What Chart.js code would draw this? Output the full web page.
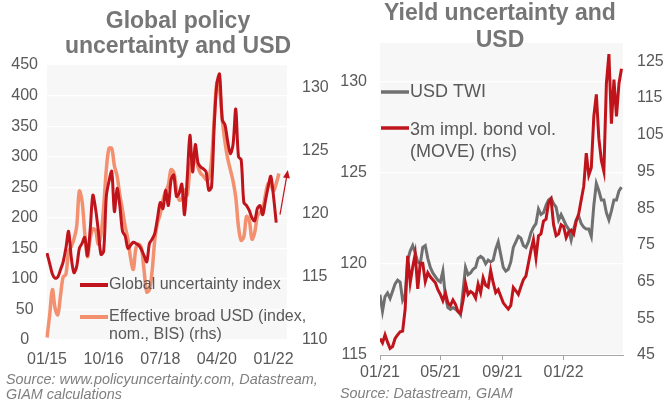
<!DOCTYPE html>
<html>
<head>
<meta charset="utf-8">
<script src="https://cdn.jsdelivr.net/npm/chart.js@4.4.1/dist/chart.umd.min.js"></script>
<style>
  html, body { margin: 0; padding: 0; background: #fff; }
  #wrap { position: relative; width: 663px; height: 402px; overflow: hidden; }
  canvas { position: absolute; top: 0; }
  #policyChart { left: 0; }
  #yieldChart { left: 335px; }
</style>
</head>
<body>
<div id="wrap">
  <canvas id="policyChart" width="335" height="402"></canvas>
  <canvas id="yieldChart" width="328" height="402"></canvas>
</div>
<script>
// ---- Left panel: monthly, 01/15 .. 06/22 ----
const policyStart = { year: 2015, month: 1 };
const policyMonths = 90;
const policyTicks = ['01/15', '10/16', '07/18', '04/20', '01/22'];

// Global economic policy uncertainty index (lhs)
const gepu = [142, 125, 108, 101, 103, 115, 128, 150, 178, 135,
  110, 120, 150, 158, 168, 138, 180, 237, 215, 180,
  140, 145, 235, 260, 276, 210, 248, 220, 178, 170,
  150, 155, 160, 158, 155, 148, 138, 128, 158, 165,
  175, 200, 225, 215, 245, 220, 262, 270, 235, 240,
  255, 205, 265, 335, 275, 320, 290, 283, 280, 275,
  245, 250, 350, 420, 435, 360, 352, 325, 305, 320,
  378, 300, 295, 225, 220, 212, 200, 195, 215, 220,
  205, 228, 250, 268, 235, 192];

// Effective broad USD, nominal, BIS (rhs)
const usdBroad = [110.2, 112, 114, 112.5, 112, 113.5, 115, 115.2, 117, 117.4,
  118, 119, 121.8, 121, 118.5, 116.6, 118, 118.8, 118.7, 117.6,
  118.3, 120.5, 123.5, 125.2, 125.2, 123.8, 123, 121.5, 120.3, 119,
  118, 116.5, 115.6, 117.3, 117.6, 117.3, 115.5, 113.8, 114, 115.5,
  118, 119.3, 120, 121.1, 121.8, 122.3, 123.5, 123.3, 122, 121.1,
  121.2, 121.9, 121.5, 123.6, 124.5, 124.6, 123.7, 123.2, 123, 122.7,
  122.8, 124.2, 127.5, 130.4, 129.8, 127.5, 125.7, 124.4, 123.5, 122.6,
  121.3, 119, 117.9, 118.2, 119.8, 119.5, 118, 118.5, 119.8, 120.1,
  120.4, 121.5, 122.4, 122.3, 121.8, 122.4, 123.2];

// arrow annotation: [month index, lhs value]
const arrowFrom = [86.4, 205];
const arrowTo = [89.3, 278];

// ---- Right panel: every 5 days from 01/01/21 ----
const yieldStart = '2021-01-01';
const stepDays = 5;
const yieldTicks = ['01/21', '05/21', '09/21', '01/22'];
const moveTicks = [45, 55, 65, 75, 85, 95, 105, 115, 125];

// USD trade weighted index (lhs)
const usdTwi = [118.3, 117.4, 118.2, 118.4, 118.1, 118.5, 118.9, 119.1, 119.0, 118.0,
  118.3, 120.2, 120.7, 121.0, 120.6, 120.1, 120.0, 120.9, 121.0, 120.3,
  119.8, 119.5, 119.3, 119.1, 119.0, 119.6, 118.2, 117.6, 117.5, 117.6,
  117.5, 117.4, 117.2, 118.5, 119.8, 119.4, 119.5, 119.7, 119.8, 120.3,
  120.4, 120.3, 120.0, 120.2, 120.1, 120.2, 120.8, 121.2, 120.5, 119.8,
  119.6, 119.7, 120.1, 120.9, 121.2, 121.5, 121.4, 121.0, 120.9, 121.2,
  121.7, 122.0, 122.2, 123.0, 122.7, 122.8, 123.2, 123.5, 123.6, 123.3,
  123.1, 122.4, 122.7, 122.4, 122.1, 121.9, 121.3, 121.9, 122.4, 122.6,
  122.2, 122.0, 121.9, 121.9, 121.5, 123.2, 124.4, 124.0, 123.5, 123.5,
  122.8, 122.4, 122.9, 123.5, 123.5, 124.0, 124.2];

// MOVE index, 3m implied bond vol (rhs)
const moveIdx = [49.5, 48.3, 50.5, 48.5, 46.8, 47.3, 49.5, 50.5, 51.3, 51.5,
  57.5, 72, 64.7, 69, 72.5, 63, 70, 70, 65, 67.4,
  66.3, 65.5, 64.7, 62.8, 61.5, 59.8, 61.9, 59.2, 58.5, 60,
  58.8, 56.8, 56.3, 59.8, 64.5, 61.5, 62.3, 61.8, 60.5, 64.3,
  62, 66, 64, 63.5, 68, 64.7, 62, 62.8, 61, 59.2,
  58.3, 57.5, 58.5, 63.4, 62.5, 61.5, 63.6, 65.5, 66.5, 70,
  73.5, 76.4, 71.5, 77.5, 78, 81.5, 82, 86.5, 87.5, 80.5,
  77.5, 78, 80.5, 80, 77, 78.5, 79, 78, 81.5, 83.5,
  87.3, 91, 100, 94, 96, 110, 116, 104, 98, 95,
  119, 127, 108, 120, 110, 119, 123];

const FONT = '"Liberation Sans", Arial, sans-serif';
const TICK_COLOR = '#595959';
const DARK_RED = '#c0141c';
const SALMON = '#f2906f';
const GREY = '#707070';

// month labels MM/YY for the category axis
const monthLabels = [];
for (let i = 0; i < policyMonths; i++) {
  const m = (policyStart.month - 1 + i) % 12 + 1;
  const y = policyStart.year + Math.floor((policyStart.month - 1 + i) / 12);
  monthLabels.push(String(m).padStart(2, '0') + '/' + String(y % 100).padStart(2, '0'));
}

// day offsets of the right panel's tick labels
const dayMs = 86400000;
const t0 = Date.parse(yieldStart);
const yieldTickDays = yieldTicks.map(l => {
  const [mm, yy] = l.split('/');
  return Math.round((Date.UTC(2000 + Number(yy), Number(mm) - 1, 1) - t0) / dayMs);
});

const plotBg = {
  id: 'plotBg',
  beforeDraw(chart) {
    const { ctx, chartArea: a } = chart;
    ctx.save();
    ctx.fillStyle = '#f7f7f7';
    ctx.fillRect(a.left, a.top, a.right - a.left, a.bottom - a.top);
    ctx.restore();
  }
};

// titles, source notes and the hand-placed legend
const panelText = {
  id: 'panelText',
  afterDraw(chart, args, o) {
    const ctx = chart.ctx;
    ctx.save();
    ctx.textBaseline = 'alphabetic';
    ctx.textAlign = 'center';
    ctx.fillStyle = '#767676';
    ctx.font = 'bold 23px ' + FONT;
    o.title.forEach((t, i) => ctx.fillText(t, o.titleX, o.titleY + i * o.titleGap));

    ctx.textAlign = 'left';
    ctx.fillStyle = '#7f7f7f';
    ctx.font = 'italic 14.4px ' + FONT;
    o.source.forEach((t, i) => ctx.fillText(t, o.sourceX, o.sourceY + i * 15));

    ctx.textBaseline = 'middle';
    ctx.font = o.legendSize + 'px ' + FONT;
    o.legend.forEach(item => {
      ctx.strokeStyle = item.color;
      ctx.lineWidth = o.legendLine;
      ctx.beginPath();
      ctx.moveTo(o.legendX, item.y);
      ctx.lineTo(o.legendX + 28, item.y);
      ctx.stroke();
      ctx.fillStyle = TICK_COLOR;
      item.text.forEach((t, i) => ctx.fillText(t, o.legendX + 29, item.y + i * o.legendGap + (item.dy || 0)));
    });
    ctx.restore();
  }
};

const arrowNote = {
  id: 'arrowNote',
  afterDatasetsDraw(chart) {
    const { ctx, scales } = chart;
    const x0 = scales.x.getPixelForValue(arrowFrom[0]);
    const y0 = scales.y.getPixelForValue(arrowFrom[1]);
    const x1 = scales.x.getPixelForValue(arrowTo[0]);
    const y1 = scales.y.getPixelForValue(arrowTo[1]);
    const ang = Math.atan2(y1 - y0, x1 - x0);
    const head = 8;
    ctx.save();
    ctx.strokeStyle = DARK_RED;
    ctx.fillStyle = DARK_RED;
    ctx.lineWidth = 1.2;
    ctx.beginPath();
    ctx.moveTo(x0, y0);
    ctx.lineTo(x1 - Math.cos(ang) * head * 0.8, y1 - Math.sin(ang) * head * 0.8);
    ctx.stroke();
    ctx.beginPath();
    ctx.moveTo(x1, y1);
    ctx.lineTo(x1 - head * Math.cos(ang) + 3.5 * Math.sin(ang), y1 - head * Math.sin(ang) - 3.5 * Math.cos(ang));
    ctx.lineTo(x1 - head * Math.cos(ang) - 3.5 * Math.sin(ang), y1 - head * Math.sin(ang) + 3.5 * Math.cos(ang));
    ctx.closePath();
    ctx.fill();
    ctx.restore();
  }
};

const tickFont = { family: FONT, size: 16 };

new Chart(document.getElementById('policyChart'), {
  type: 'line',
  data: {
    labels: monthLabels,
    datasets: [{
      label: 'Global uncertainty index',
      data: gepu,
      yAxisID: 'y',
      borderColor: DARK_RED,
      borderWidth: 3,
      tension: 0.3
    }, {
      label: 'Effective broad USD (index, nom., BIS) (rhs)',
      data: usdBroad,
      yAxisID: 'y1',
      borderColor: SALMON,
      borderWidth: 3.5,
      tension: 0.35
    }]
  },
  options: {
    responsive: false,
    animation: false,
    layout: { padding: { top: 65, left: 0, right: 0, bottom: 0 } },
    elements: { point: { radius: 0 } },
    plugins: {
      legend: { display: false },
      tooltip: { enabled: false },
      panelText: {
        title: ['Global policy', 'uncertainty and USD'],
        titleX: 178, titleY: 28, titleGap: 25,
        source: ['Source: www.policyuncertainty.com, Datastream,', 'GIAM calculations'],
        sourceX: 6, sourceY: 384,
        legendX: 80, legendSize: 16, legendGap: 18, legendLine: 4,
        legend: [
          { color: DARK_RED, y: 285, text: ['Global uncertainty index'] },
          { color: SALMON, y: 317, text: ['Effective broad USD (index,', 'nom., BIS) (rhs)'] }
        ]
      }
    },
    scales: {
      x: {
        type: 'category',
        offset: false,
        grid: { display: false },
        border: { display: false },
        ticks: {
          autoSkip: false, maxRotation: 0, padding: 2,
          font: tickFont, color: TICK_COLOR,
          callback(v) {
            const l = this.getLabelForValue(v);
            return policyTicks.includes(l) ? l : '';
          }
        },
        afterFit(s) { s.height = 62; }
      },
      y: {
        position: 'left',
        min: 0, max: 450,
        grid: { color: '#ffffff', lineWidth: 1.2, drawTicks: false },
        border: { display: false },
        ticks: { stepSize: 50, crossAlign: 'center', padding: 9, font: tickFont, color: TICK_COLOR },
        afterFit(s) { s.width = 47; }
      },
      y1: {
        position: 'right',
        min: 110, max: 131.8,
        grid: { display: false, drawTicks: false },
        border: { display: false },
        ticks: { stepSize: 5, includeBounds: false, padding: 15, font: tickFont, color: TICK_COLOR },
        afterFit(s) { s.width = 48; }
      }
    }
  },
  plugins: [plotBg, panelText, arrowNote]
});

new Chart(document.getElementById('yieldChart'), {
  type: 'line',
  data: {
    datasets: [{
      label: '3m impl. bond vol. (MOVE) (rhs)',
      data: moveIdx.map((v, i) => ({ x: i * stepDays, y: v })),
      yAxisID: 'y1',
      borderColor: DARK_RED,
      borderWidth: 3,
      tension: 0
    }, {
      label: 'USD TWI',
      data: usdTwi.map((v, i) => ({ x: i * stepDays, y: v })),
      yAxisID: 'y',
      borderColor: GREY,
      borderWidth: 3,
      tension: 0
    }]
  },
  options: {
    responsive: false,
    animation: false,
    layout: { padding: { top: 43, left: 0, right: 0, bottom: 0 } },
    elements: { point: { radius: 0 } },
    plugins: {
      legend: { display: false },
      tooltip: { enabled: false },
      panelText: {
        title: ['Yield uncertainty and', 'USD'],
        titleX: 165, titleY: 20, titleGap: 27,
        source: ['Source: Datastream, GIAM'],
        sourceX: 5, sourceY: 398,
        legendX: 46, legendSize: 18, legendGap: 22, legendLine: 3.5,
        legend: [
          { color: GREY, y: 92, text: ['USD TWI'] },
          { color: DARK_RED, y: 128, dy: 2, text: ['3m impl. bond vol.', '(MOVE) (rhs)'] }
        ]
      }
    },
    scales: {
      x: {
        type: 'linear',
        min: 0, max: 483,
        grid: { drawOnChartArea: false, drawTicks: true, tickLength: 5, color: '#a6a6a6' },
        border: { display: true, color: '#a6a6a6' },
        afterBuildTicks(s) { s.ticks = yieldTickDays.map(v => ({ value: v })); },
        ticks: {
          maxRotation: 0, padding: 3, font: tickFont, color: TICK_COLOR,
          callback(v) {
            const i = yieldTickDays.indexOf(v);
            return i >= 0 ? yieldTicks[i] : '';
          }
        },
        afterFit(s) { s.height = 47; }
      },
      y: {
        position: 'left',
        min: 115, max: 132.1,
        grid: { color: '#ffffff', lineWidth: 1.2, drawTicks: false },
        border: { display: false },
        ticks: { stepSize: 5, includeBounds: false, padding: 13, font: tickFont, color: TICK_COLOR },
        afterFit(s) { s.width = 45; }
      },
      y1: {
        position: 'right',
        min: 45, max: 130,
        grid: { display: false, drawTicks: false },
        border: { display: false },
        afterBuildTicks(s) { s.ticks = moveTicks.map(v => ({ value: v })); },
        ticks: { padding: 14, font: tickFont, color: TICK_COLOR },
        afterFit(s) { s.width = 40; }
      }
    }
  },
  plugins: [plotBg, panelText]
});
</script>
</body>
</html>
